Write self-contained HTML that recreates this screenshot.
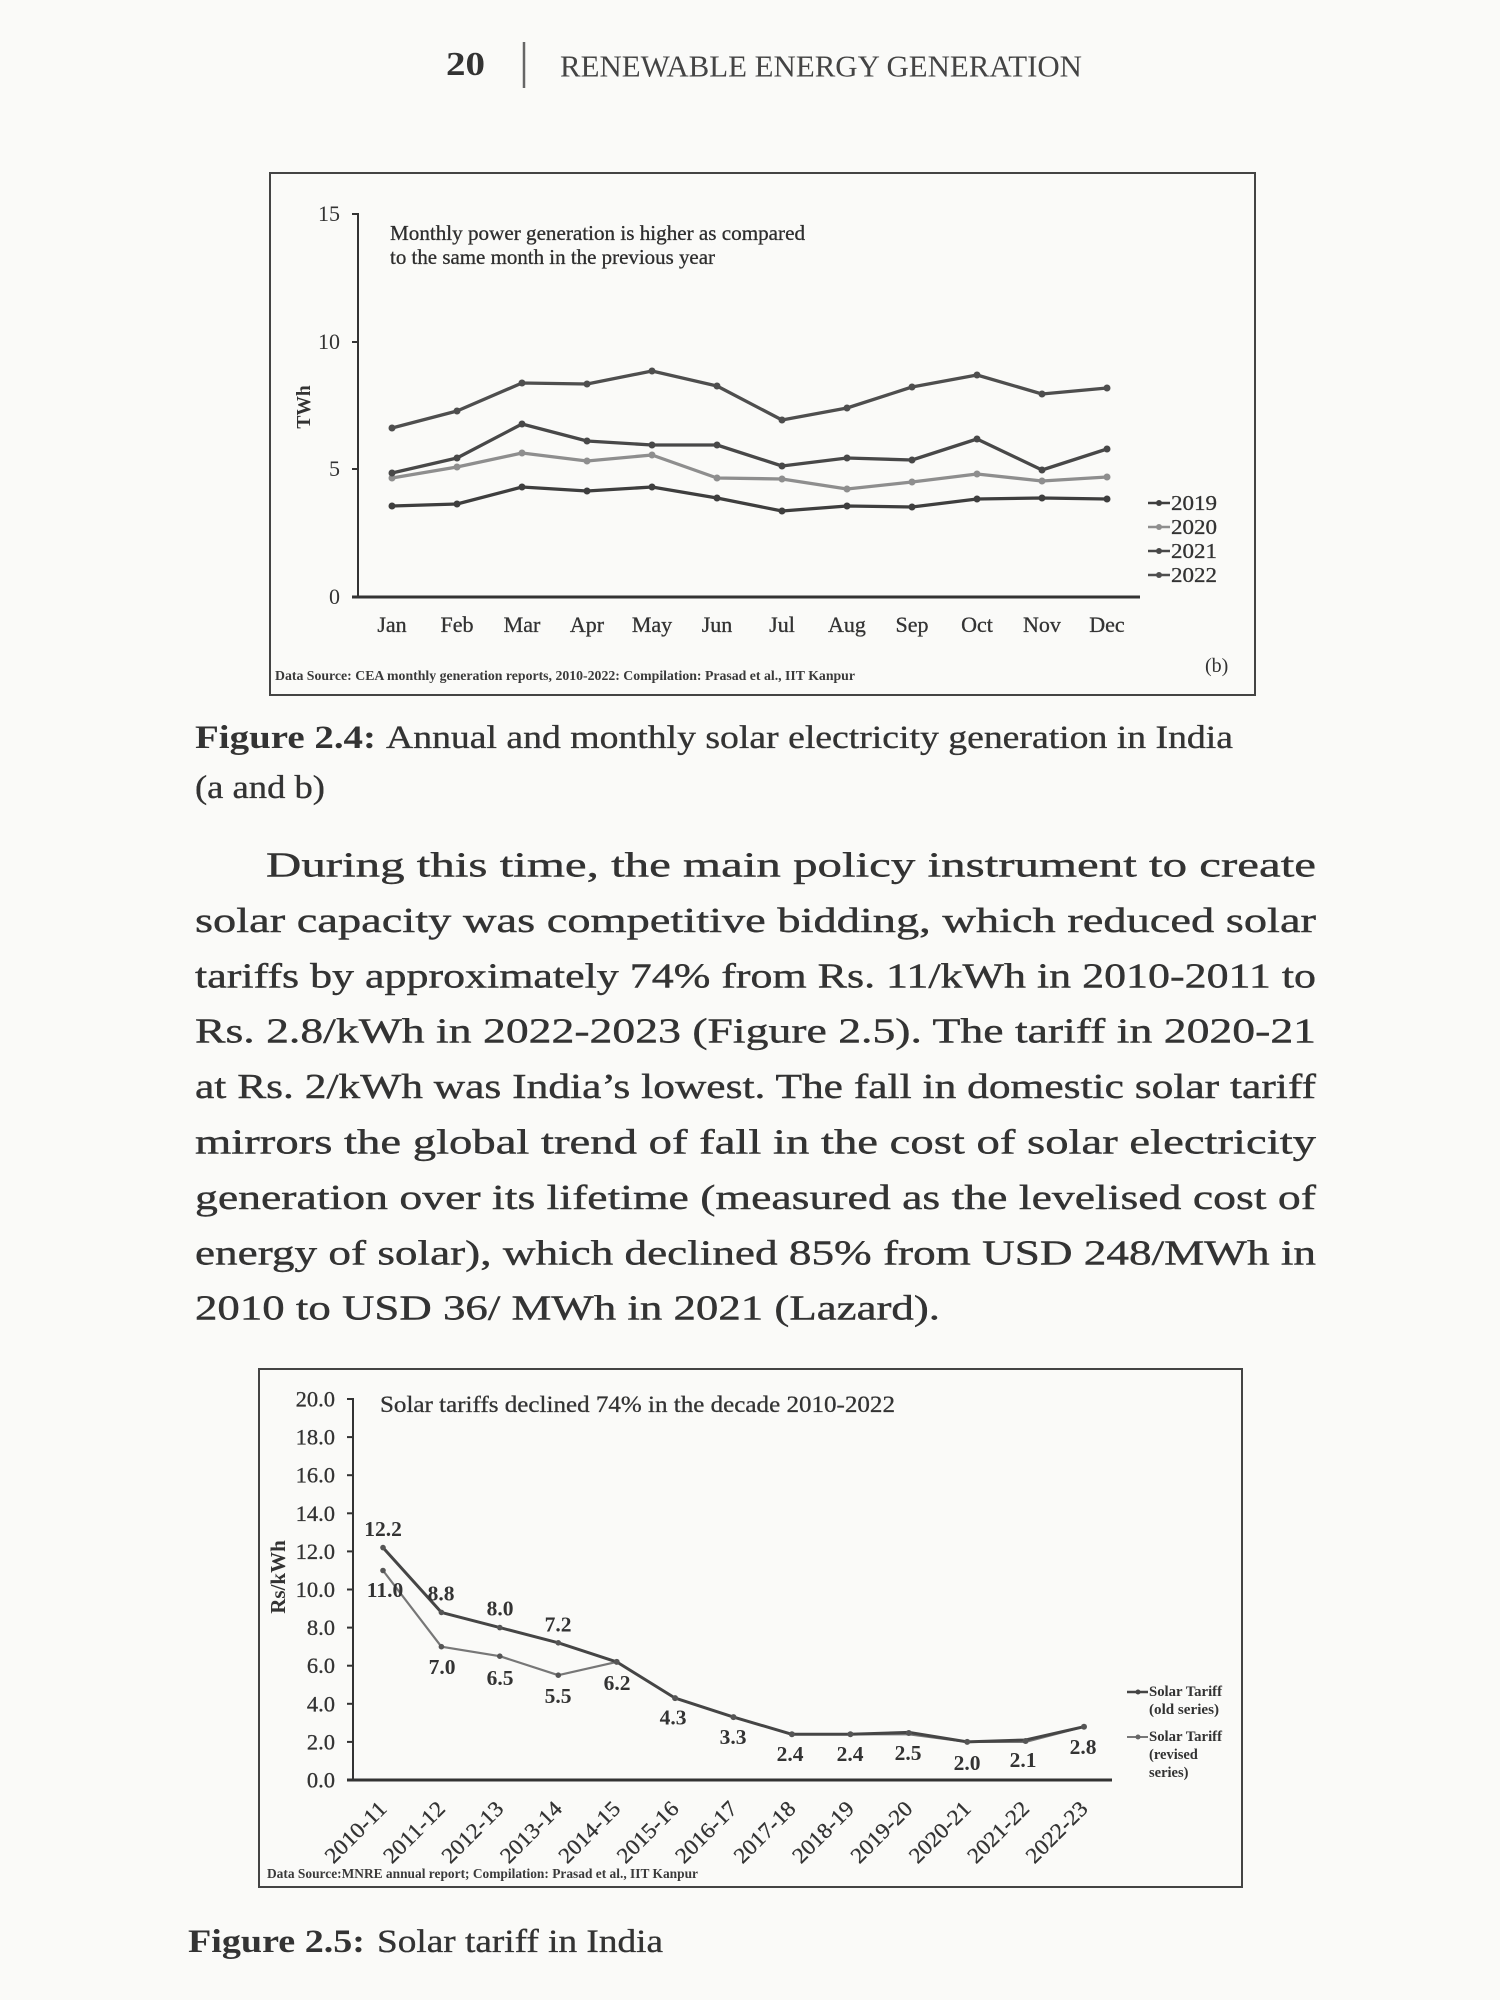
<!DOCTYPE html>
<html>
<head>
<meta charset="utf-8">
<style>
html,body{margin:0;padding:0;background:#fafaf8;}
svg{display:block;}
</style>
</head>
<body>
<svg width="1500" height="2000" viewBox="0 0 1500 2000" xmlns="http://www.w3.org/2000/svg" font-family="'Liberation Serif', serif">
<rect x="0" y="0" width="1500" height="2000" fill="#fafaf8"/>

<!-- Header -->
<text x="446" y="75" font-size="34" font-weight="bold" fill="#333" textLength="39" lengthAdjust="spacingAndGlyphs">20</text>
<line x1="524" y1="42" x2="524" y2="88" stroke="#666" stroke-width="2.5"/>
<text x="560" y="76.5" font-size="31" fill="#444" textLength="522" lengthAdjust="spacingAndGlyphs">RENEWABLE ENERGY GENERATION</text>

<!-- ============ Chart 1 ============ -->
<rect x="270" y="173" width="985" height="522" fill="none" stroke="#444" stroke-width="2"/>
<line x1="358" y1="213" x2="358" y2="598" stroke="#333" stroke-width="2"/>
<line x1="352" y1="597" x2="1140" y2="597" stroke="#333" stroke-width="3"/>
<g stroke="#333" stroke-width="2">
<line x1="352" y1="214" x2="358" y2="214"/>
<line x1="352" y1="342" x2="358" y2="342"/>
<line x1="352" y1="469" x2="358" y2="469"/>
</g>
<g font-size="22" fill="#333" text-anchor="end">
<text x="340" y="221">15</text>
<text x="340" y="349">10</text>
<text x="340" y="476">5</text>
<text x="340" y="604">0</text>
</g>
<text transform="translate(310,407) rotate(-90)" font-size="19.5" font-weight="bold" fill="#333" text-anchor="middle">TWh</text>
<text x="390" y="240" font-size="21" fill="#2e2e2e" stroke="#2e2e2e" stroke-width="0.3" textLength="415" lengthAdjust="spacingAndGlyphs">Monthly power generation is higher as compared</text>
<text x="390" y="264" font-size="21" fill="#2e2e2e" stroke="#2e2e2e" stroke-width="0.3" textLength="325" lengthAdjust="spacingAndGlyphs">to the same month in the previous year</text>

<g font-size="22" fill="#333" text-anchor="middle" stroke="#333" stroke-width="0.3">
<text x="392" y="632">Jan</text>
<text x="457" y="632">Feb</text>
<text x="522" y="632">Mar</text>
<text x="587" y="632">Apr</text>
<text x="652" y="632">May</text>
<text x="717" y="632">Jun</text>
<text x="782" y="632">Jul</text>
<text x="847" y="632">Aug</text>
<text x="912" y="632">Sep</text>
<text x="977" y="632">Oct</text>
<text x="1042" y="632">Nov</text>
<text x="1107" y="632">Dec</text>
</g>

<g fill="none" stroke-width="3.3" stroke-linejoin="round">
<polyline stroke="#8e8e8e" points="392,478 457,467 522,453 587,461 652,455 717,478 782,479 847,489 912,482 977,474 1042,481 1107,477"/>
<polyline stroke="#3e3e3e" points="392,506 457,504 522,487 587,491 652,487 717,498 782,511 847,506 912,507 977,499 1042,498 1107,499"/>
<polyline stroke="#484848" points="392,473 457,458 522,424 587,441 652,445 717,445 782,466 847,458 912,460 977,439 1042,470 1107,449"/>
<polyline stroke="#4e4e4e" points="392,428 457,411 522,383 587,384 652,371 717,386 782,420 847,408 912,387 977,375 1042,394 1107,388"/>
</g>
<g fill="#8e8e8e">
<circle cx="392" cy="478" r="3.5"/><circle cx="457" cy="467" r="3.5"/><circle cx="522" cy="453" r="3.5"/><circle cx="587" cy="461" r="3.5"/><circle cx="652" cy="455" r="3.5"/><circle cx="717" cy="478" r="3.5"/><circle cx="782" cy="479" r="3.5"/><circle cx="847" cy="489" r="3.5"/><circle cx="912" cy="482" r="3.5"/><circle cx="977" cy="474" r="3.5"/><circle cx="1042" cy="481" r="3.5"/><circle cx="1107" cy="477" r="3.5"/>
</g>
<g fill="#3e3e3e">
<circle cx="392" cy="506" r="3.5"/><circle cx="457" cy="504" r="3.5"/><circle cx="522" cy="487" r="3.5"/><circle cx="587" cy="491" r="3.5"/><circle cx="652" cy="487" r="3.5"/><circle cx="717" cy="498" r="3.5"/><circle cx="782" cy="511" r="3.5"/><circle cx="847" cy="506" r="3.5"/><circle cx="912" cy="507" r="3.5"/><circle cx="977" cy="499" r="3.5"/><circle cx="1042" cy="498" r="3.5"/><circle cx="1107" cy="499" r="3.5"/>
</g>
<g fill="#484848">
<circle cx="392" cy="473" r="3.5"/><circle cx="457" cy="458" r="3.5"/><circle cx="522" cy="424" r="3.5"/><circle cx="587" cy="441" r="3.5"/><circle cx="652" cy="445" r="3.5"/><circle cx="717" cy="445" r="3.5"/><circle cx="782" cy="466" r="3.5"/><circle cx="847" cy="458" r="3.5"/><circle cx="912" cy="460" r="3.5"/><circle cx="977" cy="439" r="3.5"/><circle cx="1042" cy="470" r="3.5"/><circle cx="1107" cy="449" r="3.5"/>
</g>
<g fill="#4e4e4e">
<circle cx="392" cy="428" r="3.5"/><circle cx="457" cy="411" r="3.5"/><circle cx="522" cy="383" r="3.5"/><circle cx="587" cy="384" r="3.5"/><circle cx="652" cy="371" r="3.5"/><circle cx="717" cy="386" r="3.5"/><circle cx="782" cy="420" r="3.5"/><circle cx="847" cy="408" r="3.5"/><circle cx="912" cy="387" r="3.5"/><circle cx="977" cy="375" r="3.5"/><circle cx="1042" cy="394" r="3.5"/><circle cx="1107" cy="388" r="3.5"/>
</g>

<g stroke-width="2.5">
<line x1="1148" y1="503" x2="1170" y2="503" stroke="#3e3e3e"/>
<line x1="1148" y1="527" x2="1170" y2="527" stroke="#8e8e8e"/>
<line x1="1148" y1="551" x2="1170" y2="551" stroke="#484848"/>
<line x1="1148" y1="575" x2="1170" y2="575" stroke="#4e4e4e"/>
</g>
<circle cx="1159" cy="503" r="3" fill="#3e3e3e"/>
<circle cx="1159" cy="527" r="3" fill="#8e8e8e"/>
<circle cx="1159" cy="551" r="3" fill="#484848"/>
<circle cx="1159" cy="575" r="3" fill="#4e4e4e"/>
<g font-size="21" fill="#333" stroke="#333" stroke-width="0.3">
<text x="1171" y="510" textLength="46" lengthAdjust="spacingAndGlyphs">2019</text>
<text x="1171" y="534" textLength="46" lengthAdjust="spacingAndGlyphs">2020</text>
<text x="1171" y="558" textLength="46" lengthAdjust="spacingAndGlyphs">2021</text>
<text x="1171" y="582" textLength="46" lengthAdjust="spacingAndGlyphs">2022</text>
</g>

<text x="275" y="680" font-size="13.5" font-weight="bold" fill="#3a3a3a" textLength="580" lengthAdjust="spacingAndGlyphs">Data Source: CEA monthly generation reports, 2010-2022:  Compilation: Prasad et al., IIT Kanpur</text>
<text x="1205" y="672" font-size="20" fill="#333">(b)</text>

<!-- Caption 1 -->
<text x="195" y="748" font-size="33" font-weight="bold" fill="#333" textLength="181" lengthAdjust="spacingAndGlyphs">Figure 2.4:</text>
<text x="386" y="748" font-size="33" fill="#333" stroke="#333" stroke-width="0.35" textLength="847" lengthAdjust="spacingAndGlyphs">Annual and monthly solar electricity generation in India</text>
<text x="195" y="798" font-size="33" fill="#333" stroke="#333" stroke-width="0.35" textLength="130" lengthAdjust="spacingAndGlyphs">(a and b)</text>

<!-- Body paragraph -->
<g font-size="35" fill="#333" stroke="#333" stroke-width="0.4">
<text x="266" y="876.5" textLength="1050" lengthAdjust="spacingAndGlyphs">During this time, the main policy instrument to create</text>
<text x="195" y="931.9" textLength="1121" lengthAdjust="spacingAndGlyphs">solar capacity was competitive bidding, which reduced solar</text>
<text x="195" y="987.3" textLength="1121" lengthAdjust="spacingAndGlyphs">tariffs by approximately 74% from Rs. 11/kWh in 2010-2011 to</text>
<text x="195" y="1042.7" textLength="1121" lengthAdjust="spacingAndGlyphs">Rs. 2.8/kWh in 2022-2023 (Figure 2.5). The tariff in 2020-21</text>
<text x="195" y="1098.1" textLength="1121" lengthAdjust="spacingAndGlyphs">at Rs. 2/kWh was India’s lowest. The fall in domestic solar tariff</text>
<text x="195" y="1153.5" textLength="1121" lengthAdjust="spacingAndGlyphs">mirrors the global trend of fall in the cost of solar electricity</text>
<text x="195" y="1208.9" textLength="1121" lengthAdjust="spacingAndGlyphs">generation over its lifetime (measured as the levelised cost of</text>
<text x="195" y="1264.3" textLength="1121" lengthAdjust="spacingAndGlyphs">energy of solar), which declined 85% from USD 248/MWh in</text>
<text x="195" y="1319.7" textLength="745" lengthAdjust="spacingAndGlyphs">2010 to USD 36/ MWh in 2021 (Lazard).</text>
</g>

<!-- ============ Chart 2 ============ -->
<rect x="259" y="1369" width="983" height="518" fill="none" stroke="#444" stroke-width="2"/>
<line x1="353" y1="1398" x2="353" y2="1781" stroke="#333" stroke-width="2"/>
<line x1="347" y1="1780" x2="1112" y2="1780" stroke="#333" stroke-width="3"/>
<g stroke="#333" stroke-width="2">
<line x1="347" y1="1399" x2="353" y2="1399"/>
<line x1="347" y1="1437.1" x2="353" y2="1437.1"/>
<line x1="347" y1="1475.2" x2="353" y2="1475.2"/>
<line x1="347" y1="1513.3" x2="353" y2="1513.3"/>
<line x1="347" y1="1551.4" x2="353" y2="1551.4"/>
<line x1="347" y1="1589.5" x2="353" y2="1589.5"/>
<line x1="347" y1="1627.6" x2="353" y2="1627.6"/>
<line x1="347" y1="1665.7" x2="353" y2="1665.7"/>
<line x1="347" y1="1703.8" x2="353" y2="1703.8"/>
<line x1="347" y1="1741.9" x2="353" y2="1741.9"/>
</g>
<g font-size="22.5" fill="#333" text-anchor="end" stroke="#333" stroke-width="0.3">
<text x="335" y="1406.5">20.0</text>
<text x="335" y="1444.6">18.0</text>
<text x="335" y="1482.7">16.0</text>
<text x="335" y="1520.8">14.0</text>
<text x="335" y="1558.9">12.0</text>
<text x="335" y="1597">10.0</text>
<text x="335" y="1635.1">8.0</text>
<text x="335" y="1673.2">6.0</text>
<text x="335" y="1711.3">4.0</text>
<text x="335" y="1749.4">2.0</text>
<text x="335" y="1787.5">0.0</text>
</g>
<text transform="translate(285,1577) rotate(-90)" font-size="21" font-weight="bold" fill="#333" text-anchor="middle">Rs/kWh</text>
<text x="380" y="1412" font-size="23.5" fill="#333" stroke="#333" stroke-width="0.3" textLength="515" lengthAdjust="spacingAndGlyphs">Solar tariffs declined 74% in the decade 2010-2022</text>

<polyline fill="none" stroke="#777" stroke-width="2.2" stroke-linejoin="round" points="383,1570.5 441.4,1646.7 499.8,1656.2 558.3,1675.2 616.7,1661.9 675.1,1698.1 733.5,1717.1 791.9,1734.3 850.4,1734.3 908.8,1734.3 967.2,1741.9 1025.6,1741.9 1084,1726.7"/>
<polyline fill="none" stroke="#454545" stroke-width="3" stroke-linejoin="round" points="383,1547.6 441.4,1612.4 499.8,1627.6 558.3,1642.8 616.7,1661.9 675.1,1698.1 733.5,1717.1 791.9,1734.3 850.4,1734.3 908.8,1732.4 967.2,1741.9 1025.6,1740 1084,1726.7"/>
<g fill="#555">
<circle cx="383" cy="1570.5" r="2.8"/><circle cx="441.4" cy="1646.7" r="2.8"/><circle cx="499.8" cy="1656.2" r="2.8"/><circle cx="558.3" cy="1675.2" r="2.8"/>
<circle cx="383" cy="1547.6" r="2.8"/><circle cx="441.4" cy="1612.4" r="2.8"/><circle cx="499.8" cy="1627.6" r="2.8"/><circle cx="558.3" cy="1642.8" r="2.8"/><circle cx="616.7" cy="1661.9" r="3"/><circle cx="675.1" cy="1698.1" r="3"/><circle cx="733.5" cy="1717.1" r="3"/><circle cx="791.9" cy="1734.3" r="3"/><circle cx="850.4" cy="1734.3" r="3"/><circle cx="908.8" cy="1733" r="3"/><circle cx="967.2" cy="1741.9" r="3"/><circle cx="1025.6" cy="1741" r="3"/><circle cx="1084" cy="1726.7" r="3"/>
</g>

<g font-size="21.5" font-weight="bold" fill="#333" text-anchor="middle">
<text x="383" y="1536">12.2</text>
<text x="385" y="1597">11.0</text>
<text x="441" y="1600.5">8.8</text>
<text x="500" y="1615.6">8.0</text>
<text x="558" y="1631.7">7.2</text>
<text x="442" y="1674">7.0</text>
<text x="500" y="1684.8">6.5</text>
<text x="558" y="1702.8">5.5</text>
<text x="617" y="1690.2">6.2</text>
<text x="673" y="1724.3">4.3</text>
<text x="733" y="1744">3.3</text>
<text x="790" y="1761">2.4</text>
<text x="850" y="1761">2.4</text>
<text x="908" y="1760">2.5</text>
<text x="967" y="1770">2.0</text>
<text x="1023" y="1767">2.1</text>
<text x="1083" y="1754">2.8</text>
</g>

<g font-size="22" fill="#333" text-anchor="end" stroke="#333" stroke-width="0.3">
<text transform="translate(388,1810) rotate(-45)" textLength="77" lengthAdjust="spacingAndGlyphs">2010-11</text>
<text transform="translate(446.4,1810) rotate(-45)" textLength="77" lengthAdjust="spacingAndGlyphs">2011-12</text>
<text transform="translate(504.8,1810) rotate(-45)" textLength="77" lengthAdjust="spacingAndGlyphs">2012-13</text>
<text transform="translate(563.3,1810) rotate(-45)" textLength="77" lengthAdjust="spacingAndGlyphs">2013-14</text>
<text transform="translate(621.7,1810) rotate(-45)" textLength="77" lengthAdjust="spacingAndGlyphs">2014-15</text>
<text transform="translate(680.1,1810) rotate(-45)" textLength="77" lengthAdjust="spacingAndGlyphs">2015-16</text>
<text transform="translate(738.5,1810) rotate(-45)" textLength="77" lengthAdjust="spacingAndGlyphs">2016-17</text>
<text transform="translate(796.9,1810) rotate(-45)" textLength="77" lengthAdjust="spacingAndGlyphs">2017-18</text>
<text transform="translate(855.4,1810) rotate(-45)" textLength="77" lengthAdjust="spacingAndGlyphs">2018-19</text>
<text transform="translate(913.8,1810) rotate(-45)" textLength="77" lengthAdjust="spacingAndGlyphs">2019-20</text>
<text transform="translate(972.2,1810) rotate(-45)" textLength="77" lengthAdjust="spacingAndGlyphs">2020-21</text>
<text transform="translate(1030.6,1810) rotate(-45)" textLength="77" lengthAdjust="spacingAndGlyphs">2021-22</text>
<text transform="translate(1089,1810) rotate(-45)" textLength="77" lengthAdjust="spacingAndGlyphs">2022-23</text>
</g>

<line x1="1127" y1="1692" x2="1148" y2="1692" stroke="#454545" stroke-width="2.5"/>
<circle cx="1138" cy="1692" r="2.5" fill="#454545"/>
<line x1="1127" y1="1737" x2="1148" y2="1737" stroke="#777" stroke-width="2"/>
<circle cx="1138" cy="1737" r="2.5" fill="#666"/>
<g font-size="14.5" font-weight="bold" fill="#333">
<text x="1149" y="1696" textLength="73" lengthAdjust="spacingAndGlyphs">Solar Tariff</text>
<text x="1149" y="1714" textLength="70" lengthAdjust="spacingAndGlyphs">(old series)</text>
<text x="1149" y="1741" textLength="73" lengthAdjust="spacingAndGlyphs">Solar Tariff</text>
<text x="1149" y="1759">(revised</text>
<text x="1149" y="1777">series)</text>
</g>

<text x="267" y="1878" font-size="13.5" font-weight="bold" fill="#3a3a3a" textLength="431" lengthAdjust="spacingAndGlyphs">Data Source:MNRE annual report; Compilation:  Prasad et al., IIT Kanpur</text>

<!-- Caption 2 -->
<text x="188" y="1952" font-size="33" font-weight="bold" fill="#333" textLength="177" lengthAdjust="spacingAndGlyphs">Figure 2.5:</text>
<text x="377" y="1952" font-size="33" fill="#333" stroke="#333" stroke-width="0.35" textLength="286" lengthAdjust="spacingAndGlyphs">Solar tariff in India</text>
</svg>
</body>
</html>
